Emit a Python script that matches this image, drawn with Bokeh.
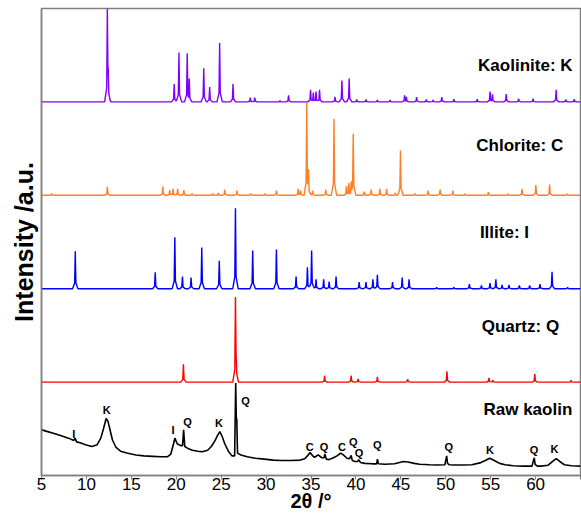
import numpy as np
from bokeh.plotting import figure
from bokeh.models import Range1d, Label, FixedTicker
from bokeh.embed import file_html
from bokeh.resources import INLINE

# ---------------- data ----------------
x_ticks = [5, 10, 15, 20, 25, 30, 35, 40, 45, 50, 55, 60, 65]

# Reference patterns: peak positions (2theta) and relative heights (fraction of one panel)
kaol_pos = [12.33, 12.42, 19.77, 20.30, 21.22, 21.45, 23.06, 23.72, 24.83, 26.32, 28.24, 28.74,
            31.54, 32.50, 34.95, 35.26, 35.56, 35.95, 37.67, 38.44, 39.25, 40.09, 41.12, 42.39,
            43.81, 45.42, 45.62, 46.76, 47.83, 48.60, 49.56, 50.90, 53.50, 54.93, 55.20, 56.73,
            58.11, 59.72, 62.29, 63.36, 64.30]
kaol_int = [1.00, 0.37, 0.19, 0.53, 0.52, 0.25, 0.36, 0.16, 0.63, 0.19, 0.045, 0.045,
            0.015, 0.07, 0.13, 0.10, 0.11, 0.13, 0.055, 0.23, 0.25, 0.025, 0.025, 0.02,
            0.02, 0.07, 0.055, 0.05, 0.025, 0.02, 0.05, 0.03, 0.03, 0.11, 0.08, 0.085,
            0.035, 0.035, 0.13, 0.025, 0.03]

chlor_pos = [6.12, 12.33, 18.50, 19.27, 19.65, 20.15, 20.84, 21.76, 24.06, 24.67, 25.40, 26.75,
             28.28, 29.90, 31.15, 33.57, 33.84, 34.53, 34.72, 35.18, 36.64, 37.56, 38.94, 39.21,
             39.47, 39.70, 40.93, 41.70, 42.66, 43.42, 44.38, 44.96, 46.60, 48.03, 49.37, 50.79,
             52.13, 54.74, 56.96, 58.49, 60.03, 61.56, 63.55]
chlor_int = [0.02, 0.09, 0.09, 0.055, 0.07, 0.07, 0.055, 0.02, 0.02, 0.025, 0.06, 0.05,
             0.02, 0.02, 0.05, 0.07, 0.05, 0.99, 0.28, 0.05, 0.06, 0.82, 0.10, 0.13,
             0.15, 0.66, 0.04, 0.06, 0.07, 0.07, 0.025, 0.48, 0.02, 0.05, 0.06, 0.05,
             0.015, 0.035, 0.015, 0.07, 0.11, 0.115, 0.015]

illite_pos = [8.76, 17.66, 19.84, 20.69, 21.65, 22.84, 24.79, 26.59, 28.51, 31.15, 33.34, 34.60,
              35.07, 35.56, 36.41, 37.02, 37.79, 40.36, 41.12, 41.89, 42.39, 44.08, 45.15, 45.92,
              48.98, 50.90, 52.63, 53.97, 54.93, 55.58, 56.27, 57.04, 58.19, 59.34, 60.49, 61.83,
              63.56]
illite_int = [0.40, 0.175, 0.55, 0.13, 0.12, 0.44, 0.30, 0.86, 0.41, 0.42, 0.13, 0.23,
              0.41, 0.10, 0.10, 0.075, 0.13, 0.07, 0.07, 0.10, 0.15, 0.07, 0.12, 0.10,
              0.015, 0.015, 0.05, 0.035, 0.06, 0.10, 0.04, 0.04, 0.035, 0.035, 0.05, 0.18,
              0.015]

quartz_pos = [20.80, 26.59, 26.66, 36.52, 39.47, 40.24, 42.39, 45.76, 50.13, 54.81, 55.24, 59.91, 63.94]
quartz_int = [0.19, 0.91, 0.30, 0.07, 0.07, 0.035, 0.055, 0.03, 0.115, 0.045, 0.02, 0.085, 0.02]

# Raw kaolin measured trace (2theta, fraction of one panel)
raw_x = [5.0, 5.5, 6.4, 7.2, 8.0, 8.6, 8.75, 8.9, 9.3, 9.9, 10.6, 11.2, 11.6, 11.9, 12.2, 12.4,
         12.6, 12.9, 13.3, 13.8, 14.5, 15.5, 16.4, 17.4, 18.3, 19.0, 19.4, 19.7, 19.85, 20.1,
         20.5, 20.7, 20.82, 20.95, 21.3, 21.8, 22.4, 22.9, 23.5, 23.9, 24.3, 24.6, 24.85, 25.1,
         25.4, 25.8, 26.2, 26.5, 26.62, 26.68, 26.74, 26.82, 27.2, 27.9, 28.8, 29.8, 30.8, 31.7,
         32.8, 33.8, 34.3, 34.6, 34.9, 35.2, 35.4, 35.8, 36.2, 36.45, 36.55, 36.7, 37.0, 37.5,
         37.9, 38.3, 38.6, 39.0, 39.3, 39.47, 39.6, 39.9, 40.2, 40.3, 40.5, 41.0, 41.8, 42.3,
         42.4, 42.5, 43.2, 44.3, 45.3, 45.8, 46.5, 47.1, 48.2, 49.0, 49.9, 50.1, 50.2, 50.4,
         51.0, 52.0, 52.9, 53.8, 54.4, 54.9, 55.4, 56.0, 56.6, 57.5, 58.6, 59.6, 59.85, 59.95,
         60.2, 60.6, 61.4, 61.9, 62.3, 62.7, 63.2, 64.0, 65.0]
raw_y = [0.49, 0.475, 0.45, 0.425, 0.40, 0.375, 0.40, 0.36, 0.35, 0.33, 0.31, 0.33, 0.40, 0.50, 0.61, 0.58,
         0.50, 0.38, 0.30, 0.26, 0.24, 0.22, 0.21, 0.205, 0.20, 0.20, 0.23, 0.34, 0.40, 0.34,
         0.32, 0.32, 0.49, 0.31, 0.29, 0.27, 0.26, 0.255, 0.27, 0.31, 0.37, 0.43, 0.47, 0.42,
         0.34, 0.26, 0.21, 0.21, 0.99, 0.62, 0.60, 0.24, 0.22, 0.20, 0.185, 0.175, 0.165, 0.16,
         0.16, 0.165, 0.18, 0.21, 0.245, 0.21, 0.195, 0.22, 0.19, 0.19, 0.23, 0.175, 0.17, 0.19,
         0.21, 0.24, 0.22, 0.185, 0.18, 0.215, 0.16, 0.15, 0.15, 0.17, 0.14, 0.13, 0.125, 0.125,
         0.175, 0.125, 0.12, 0.125, 0.15, 0.145, 0.13, 0.12, 0.115, 0.113, 0.115, 0.21, 0.13, 0.115,
         0.113, 0.112, 0.115, 0.135, 0.16, 0.185, 0.16, 0.13, 0.115, 0.105, 0.10, 0.10, 0.19, 0.12,
         0.10, 0.10, 0.11, 0.15, 0.18, 0.15, 0.115, 0.105, 0.10]

# Phase markers on the raw kaolin trace
mark_text = ["I", "K", "I", "Q", "K", "Q", "C", "Q", "C", "Q", "Q", "Q", "Q", "K", "Q", "K"]
mark_x = [8.6, 12.25, 19.65, 21.26, 24.75, 27.7, 34.87, 36.45, 38.44, 39.7, 40.35, 42.39,
          50.33, 54.93, 59.84, 62.1]
mark_y = [0.44, 0.705, 0.486, 0.574, 0.557, 0.80, 0.30, 0.30, 0.31, 0.36, 0.24, 0.33,
          0.31, 0.27, 0.27, 0.28]

series_names = ["Kaolinite: K", "Chlorite: C", "Illite: I", "Quartz: Q", "Raw kaolin"]
series_offsets = [4, 3, 2, 1, 0]
series_colors = ["#7F00FF", "#FF7F27", "#0000FF", "#FF0000", "#000000"]


def stick_profile(pos, hts, base):
    """Polyline through the read peaks (sharp top, short foot)."""
    w1, w2 = 0.07, 0.30
    xs = {5.0, 65.0}
    for p in pos:
        for d in (-w2, -w1, 0.0, w1, w2):
            xs.add(round(p + d, 4))
    xs = sorted(x for x in xs if 5.0 <= x <= 65.0)
    ys = []
    for x in xs:
        best = 0.0
        for p, h in zip(pos, hts):
            d = abs(x - p)
            if d <= w1:
                v = h * (1 - 0.85 * d / w1)
            elif d <= w2:
                v = h * 0.15 * (w2 - d) / (w2 - w1)
            else:
                v = 0.0
            best = max(best, v)
        ys.append(base + best)
    return xs, ys


FONT = "Liberation Sans"

p = figure(width=581, height=515, output_backend="svg", toolbar_location=None,
           x_range=Range1d(5, 65), y_range=Range1d(0, 5),
           min_border_left=41, min_border_right=1, min_border_top=8, min_border_bottom=40)
p.background_fill_color = "white"
p.border_fill_color = "white"
p.grid.visible = False
p.outline_line_color = "#808080"
p.outline_line_width = 1.5

# x axis
p.xaxis.ticker = FixedTicker(ticks=x_ticks)
p.xaxis.major_label_overrides = {65: ""}
p.xaxis.major_label_text_font = FONT
p.xaxis.major_label_text_font_size = "17px"
p.xaxis.major_label_text_color = "#000000"
p.xaxis.major_label_standoff = -2
p.xaxis.major_tick_out = 4
p.xaxis.major_tick_in = 0
p.xaxis.minor_tick_line_color = None
p.xaxis.axis_line_color = "#808080"
p.xaxis.axis_line_width = 1.5
p.xaxis.major_tick_line_color = "#808080"
p.xaxis.axis_label = "2θ /°"
p.xaxis.axis_label_text_font = FONT
p.xaxis.axis_label_text_font_size = "20px"
p.xaxis.axis_label_text_font_style = "bold"
p.xaxis.axis_label_text_color = "#000000"
p.xaxis.axis_label_standoff = -3

# y axis (no ticks)
p.yaxis.ticker = FixedTicker(ticks=[])
p.yaxis.major_tick_line_color = None
p.yaxis.minor_tick_line_color = None
p.yaxis.axis_line_color = "#808080"
p.yaxis.axis_line_width = 1.5
p.yaxis.axis_label = "Intensity /a.u."
p.yaxis.axis_label_text_font = FONT
p.yaxis.axis_label_text_font_size = "25px"
p.yaxis.axis_label_text_font_style = "bold"
p.yaxis.axis_label_text_color = "#000000"
p.yaxis.axis_label_standoff = 4

patterns = [(kaol_pos, kaol_int), (chlor_pos, chlor_int), (illite_pos, illite_int),
            (quartz_pos, quartz_int)]
for (pos, hts), off, col in zip(patterns, series_offsets[:4], series_colors[:4]):
    xs, ys = stick_profile(pos, hts, off)
    p.line(xs, ys, line_color=col, line_width=1.4)

p.line(raw_x, raw_y, line_color="#000000", line_width=1.6)

# series names
name_x = [53.6, 53.4, 53.8, 54.0, 54.2]
name_y = [4.395, 3.533, 2.604, 1.598, 0.709]
for t, nx, ny in zip(series_names, name_x, name_y):
    p.add_layout(Label(x=nx, y=ny, text=t, text_font=FONT, text_font_size="17px",
                       text_font_style="bold", text_color="#000000",
                       text_align="left", text_baseline="middle"))

# phase markers
for t, mx, my in zip(mark_text, mark_x, mark_y):
    p.add_layout(Label(x=mx, y=my, text=t, text_font=FONT, text_font_size="11px",
                       text_font_style="bold", text_color="#000000",
                       text_align="center", text_baseline="middle"))

open("out.html", "w").write(file_html(p, INLINE))
